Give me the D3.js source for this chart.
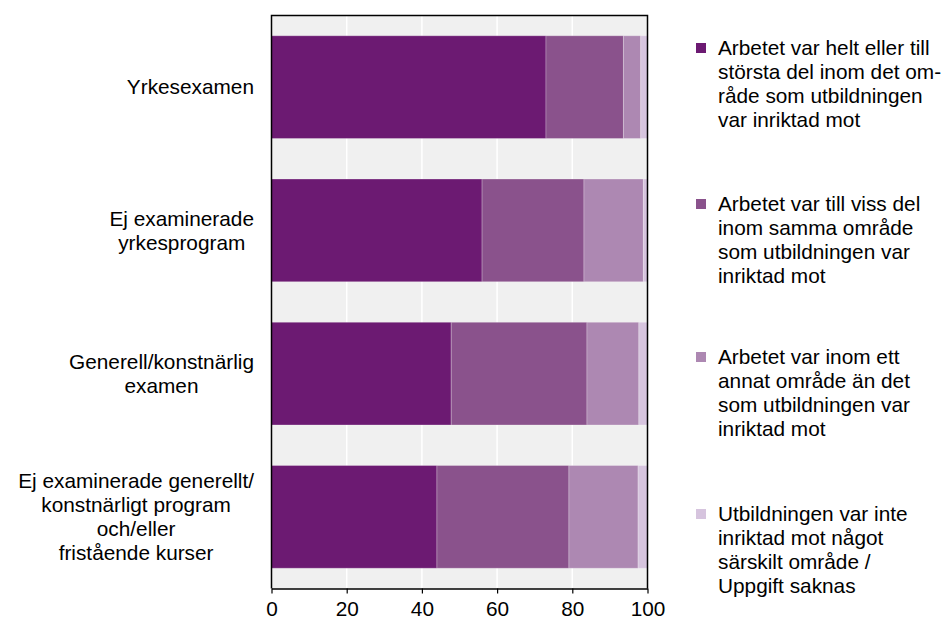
<!DOCTYPE html>
<html><head><meta charset="utf-8">
<script src="https://cdn.jsdelivr.net/npm/d3@7"></script>
<style>body{margin:0;background:#fff}svg{display:block;font-family:"Liberation Sans",Arial,sans-serif}</style>
</head><body><svg id="c" width="946" height="621"></svg>
<script>
const categories = [
  ["Yrkesexamen"],
  ["Ej examinerade", "yrkesprogram"],
  ["Generell/konstnärlig", "examen"],
  ["Ej examinerade generellt/", "konstnärligt program", "och/eller", "fristående kurser"]
];
const categoryKeys = ["yrk", "ejyrk", "gen", "ejgen"];
const seriesNames = [
  ["Arbetet var helt eller till", "största del inom det om-", "råde som utbildningen", "var inriktad mot"],
  ["Arbetet var till viss del", "inom samma område", "som utbildningen var", "inriktad mot"],
  ["Arbetet var inom ett", "annat område än det", "som utbildningen var", "inriktad mot"],
  ["Utbildningen var inte", "inriktad mot något", "särskilt område /", "Uppgift saknas"]
];
const s1 = [73.0, 56.0, 47.8, 44.0];
const s2 = [20.6, 27.1, 36.1, 35.1];
const s3 = [4.6, 15.8, 13.8, 18.4];
const s4 = [1.8, 1.1, 2.3, 2.5];
const xTicks = [0, 20, 40, 60, 80, 100];
const colors = ["#6c1a72", "#8a528c", "#ad88b2", "#d6c4de"];

const svg = d3.select("#c");
const FS = 20.8;
const L = 271.5, R = 647.5, T = 15.5, B = 588.5;
const x = d3.scaleLinear().domain([0, 100]).range([L, R]);
const y = d3.scaleBand().domain(categoryKeys).range([T, B]).paddingInner(0.283).paddingOuter(0.1415);

svg.append("rect").attr("x", L).attr("y", T).attr("width", R - L).attr("height", B - T).attr("fill", "#f0f0f0");
svg.append("g").selectAll("line").data(xTicks.slice(1, -1)).join("line")
  .attr("x1", d => x(d)).attr("x2", d => x(d)).attr("y1", T).attr("y2", B)
  .attr("stroke", "#fff").attr("stroke-width", 1.5);

const table = categoryKeys.map((k, i) => ({key: k, s0: s1[i], s1: s2[i], s2: s3[i], s3: s4[i]}));
const stack = d3.stack().keys(["s0", "s1", "s2", "s3"])(table);
svg.append("g").selectAll("g").data(stack).join("g").attr("fill", (d, i) => colors[i])
  .selectAll("rect").data(d => d).join("rect")
  .attr("x", d => x(d[0])).attr("width", d => x(d[1]) - x(d[0]))
  .attr("y", d => y(d.data.key)).attr("height", y.bandwidth())
  .attr("stroke", "rgba(255,255,255,0.25)").attr("stroke-width", 1);

// frame
svg.append("path").attr("d", `M${L},${B}V${T}H${R}V${B}`).attr("fill", "none").attr("stroke", "#000").attr("stroke-width", 1.5);

const ax = svg.append("g").attr("transform", `translate(0,${B})`)
  .call(d3.axisBottom(x).tickValues(xTicks).tickSize(5).tickSizeOuter(0).tickPadding(8));
ax.select(".domain").attr("stroke", "#000").attr("stroke-width", 1.5);
ax.selectAll(".tick line").attr("stroke", "#000").attr("stroke-width", 1.2);
ax.selectAll("text").attr("font-size", FS).attr("fill", "#000").attr("font-family", "Liberation Sans, Arial, sans-serif");

// category labels
const lh = 24;
categories.forEach((lines, i) => {
  const cy = y(categoryKeys[i]) + y.bandwidth() / 2;
  const g = svg.append("g");
  const texts = lines.map((t, j) => g.append("text").text(t).attr("font-size", FS).attr("fill", "#000")
    .attr("text-anchor", "middle").attr("dy", "0.35em")
    .attr("y", cy + (j - (lines.length - 1) / 2) * lh));
  const maxW = d3.max(texts, t => t.node().getComputedTextLength());
  const cx = 254 - maxW / 2;
  texts.forEach(t => t.attr("x", cx));
});

// legend
const legY = [48, 204, 357, 514];
seriesNames.forEach((lines, i) => {
  const g = svg.append("g");
  g.append("rect").attr("x", 696).attr("y", legY[i] - 5).attr("width", 10).attr("height", 10).attr("fill", colors[i]);
  lines.forEach((t, j) => g.append("text").text(t).attr("x", 718).attr("y", legY[i] + j * lh)
    .attr("dy", "0.35em").attr("font-size", FS).attr("fill", "#000"));
});
</script></body></html>
